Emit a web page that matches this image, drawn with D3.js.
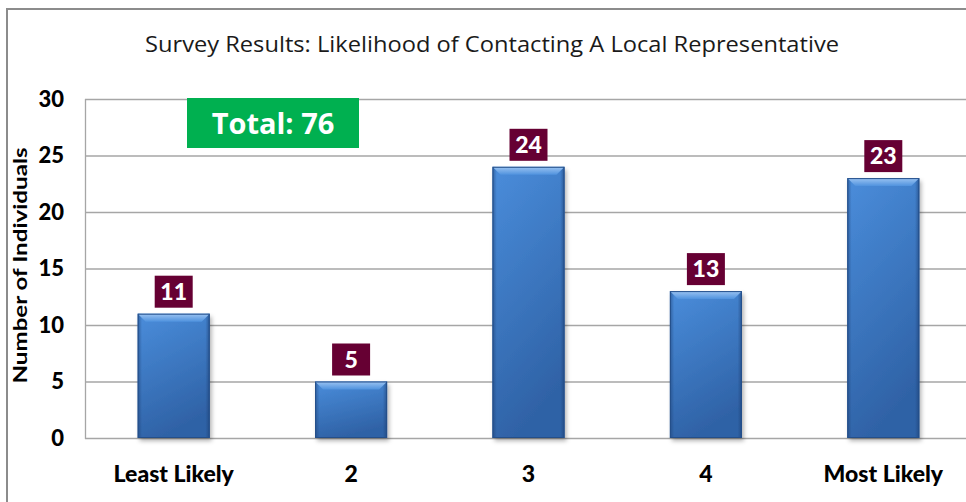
<!DOCTYPE html>
<html>
<head>
<meta charset="utf-8">
<script src="https://cdn.jsdelivr.net/npm/d3@7"></script>
<style>
  body { margin: 0; background: #fff; }
  svg { display: block; }
</style>
</head>
<body>
<svg id="chart"></svg>
<script>
const width = 966, height = 502
const margin = {top: 99, right: -6, bottom: 64, left: 85}

const categories = ["Least Likely", "2", "3", "4", "Most Likely"]
const counts = [11, 5, 24, 13, 23]
const yTicks = [0, 5, 10, 15, 20, 25, 30]
const titleText = "Survey Results: Likelihood of Contacting A Local Representative"
const totalText = "Total: 76"

const svg = d3.select("svg#chart")
    .attr("width", width)
    .attr("height", height)
    .attr("viewBox", [0, 0, width, height])

const defs = svg.append("defs")

// bar fill: blue, lighter at top-left, darker towards bottom
const grad = defs.append("linearGradient").attr("id", "barFill")
    .attr("x1", 0).attr("y1", 0).attr("x2", 0.3).attr("y2", 1)
grad.append("stop").attr("offset", "0%").attr("stop-color", "#4a8ddb")
grad.append("stop").attr("offset", "100%").attr("stop-color", "#2f62a6")

const side = defs.append("linearGradient").attr("id", "barSide")
    .attr("x1", 0).attr("y1", 0).attr("x2", 1).attr("y2", 0)
side.append("stop").attr("offset", "0%").attr("stop-color", "#1d3f73").attr("stop-opacity", 0.55)
side.append("stop").attr("offset", "6%").attr("stop-color", "#1d3f73").attr("stop-opacity", 0)
side.append("stop").attr("offset", "94%").attr("stop-color", "#1d3f73").attr("stop-opacity", 0)
side.append("stop").attr("offset", "100%").attr("stop-color", "#1d3f73").attr("stop-opacity", 0.6)

const bevel = defs.append("linearGradient").attr("id", "barBevel")
    .attr("x1", 0).attr("y1", 0).attr("x2", 0).attr("y2", 1)
bevel.append("stop").attr("offset", "0%").attr("stop-color", "#9cc4f2")
bevel.append("stop").attr("offset", "100%").attr("stop-color", "#4f92de")

const shadow = defs.append("filter").attr("id", "shadow")
    .attr("x", "-10%").attr("y", "-10%").attr("width", "130%").attr("height", "130%")
shadow.append("feDropShadow").attr("dx", 2).attr("dy", 3).attr("stdDeviation", 2)
    .attr("flood-color", "#000").attr("flood-opacity", 0.3)

// outer chart border
svg.append("rect")
    .attr("x", 7).attr("y", 9)
    .attr("width", width + 20).attr("height", height + 20)
    .attr("fill", "none")
    .attr("stroke", "#8c8c8c")
    .attr("stroke-width", 2)

const x = d3.scaleBand()
    .domain(categories)
    .range([margin.left, width - margin.right])
    .paddingInner(0.594)
    .paddingOuter(0.297)

const y = d3.scaleLinear()
    .domain([0, 30])
    .range([height - margin.bottom, margin.top])

// gridlines
svg.append("g")
    .selectAll("line")
    .data(yTicks)
    .join("line")
    .attr("x1", margin.left)
    .attr("x2", width)
    .attr("y1", d => y(d) + 0.5)
    .attr("y2", d => y(d) + 0.5)
    .attr("stroke", "#a6a6a6")
    .attr("stroke-width", 1.3)

svg.append("line")
    .attr("x1", margin.left + 0.5).attr("x2", margin.left + 0.5)
    .attr("y1", y(30)).attr("y2", y(0) + 1)
    .attr("stroke", "#a6a6a6")
    .attr("stroke-width", 1.3)

// y axis tick labels
const yAxis = svg.append("g")
    .attr("transform", `translate(${margin.left}, 0)`)
    .call(d3.axisLeft(y).tickValues(yTicks).tickSize(0).tickPadding(21))
yAxis.select(".domain").remove()
yAxis.selectAll("text")
    .attr("font-family", "Lato, 'Open Sans', sans-serif")
    .attr("font-weight", "900")
    .attr("font-size", 22)
    .attr("fill", "#000")

// x axis labels
const xAxis = svg.append("g")
    .attr("transform", `translate(0, ${y(0)})`)
    .call(d3.axisBottom(x).tickSize(0).tickPadding(28))
xAxis.select(".domain").remove()
xAxis.selectAll("text")
    .attr("font-family", "Lato, 'Open Sans', sans-serif")
    .attr("font-weight", "900")
    .attr("font-size", 23)
    .attr("fill", "#000")

// y axis title
svg.append("text")
    .attr("transform", `translate(27, ${y(15) - 3}) rotate(-90)`)
    .attr("text-anchor", "middle")
    .attr("font-family", "Lato, 'Open Sans', sans-serif")
    .attr("font-weight", "bold")
    .attr("font-size", 19)
    .attr("textLength", 236)
    .attr("lengthAdjust", "spacingAndGlyphs")
    .text("Number of Individuals")

// title
svg.append("text")
    .attr("x", 492).attr("y", 52)
    .attr("text-anchor", "middle")
    .attr("font-family", "'Open Sans', sans-serif")
    .attr("font-size", 22)
    .attr("fill", "#1a1a1a")
    .attr("textLength", 694)
    .attr("lengthAdjust", "spacingAndGlyphs")
    .text(titleText)

// bars
const bars = svg.append("g")
    .selectAll("g.bar")
    .data(categories.map((c, i) => ({cat: c, val: counts[i]})))
    .join("g").attr("class", "bar")

bars.append("rect")
    .attr("x", d => x(d.cat))
    .attr("y", d => y(d.val))
    .attr("width", x.bandwidth())
    .attr("height", d => y(0) - y(d.val))
    .attr("fill", "url(#barFill)")
    .attr("filter", "url(#shadow)")

bars.append("rect")
    .attr("x", d => x(d.cat))
    .attr("y", d => y(d.val))
    .attr("width", x.bandwidth())
    .attr("height", d => y(0) - y(d.val))
    .attr("fill", "url(#barSide)")

// top bevel
bars.append("path")
    .attr("d", d => {
        const x0 = x(d.cat), x1 = x0 + x.bandwidth(), t = y(d.val), b = 8
        return `M${x0},${t}L${x1},${t}L${x1 - b},${t + b}L${x0 + b},${t + b}Z`
    })
    .attr("fill", "url(#barBevel)")

bars.append("rect")
    .attr("x", d => x(d.cat) + 0.5)
    .attr("y", d => y(d.val) + 0.5)
    .attr("width", x.bandwidth() - 1)
    .attr("height", d => y(0) - y(d.val) - 1)
    .attr("fill", "none")
    .attr("stroke", "#244f8a")
    .attr("stroke-width", 1)

// value labels
const boxW = 38, boxH = 32
bars.append("rect")
    .attr("x", d => x(d.cat) + x.bandwidth() / 2 - boxW / 2)
    .attr("y", d => y(d.val) - boxH - 6)
    .attr("width", boxW)
    .attr("height", boxH)
    .attr("fill", "#660033")

bars.append("text")
    .attr("x", d => x(d.cat) + x.bandwidth() / 2)
    .attr("y", d => y(d.val) - 6 - boxH / 2)
    .attr("dy", "0.36em")
    .attr("text-anchor", "middle")
    .attr("font-family", "Lato, 'Open Sans', sans-serif")
    .attr("font-weight", "900")
    .attr("font-size", 23)
    .attr("fill", "#fff")
    .text(d => d.val)

// total box
svg.append("rect")
    .attr("x", 187).attr("y", 98)
    .attr("width", 172).attr("height", 50)
    .attr("fill", "#00b050")

svg.append("text")
    .attr("x", 273).attr("y", 124)
    .attr("dy", "0.36em")
    .attr("text-anchor", "middle")
    .attr("font-family", "'Open Sans', sans-serif")
    .attr("font-weight", "bold")
    .attr("font-size", 29)
    .attr("fill", "#fff")
    .text(totalText)
</script>
</body>
</html>
